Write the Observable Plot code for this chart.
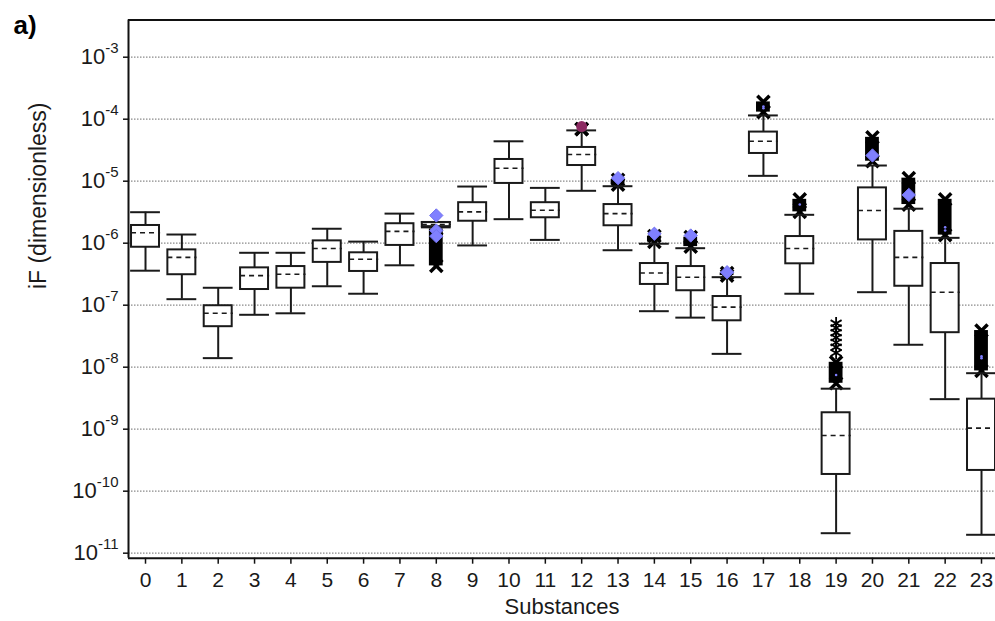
<!DOCTYPE html>
<html><head><meta charset="utf-8">
<script src="https://cdn.jsdelivr.net/npm/d3@7"></script>
<script src="https://cdn.jsdelivr.net/npm/@observablehq/plot@0.6"></script>
<style>body{margin:0;background:#fff}</style>
</head><body><div id="chart"></div>
<script>
const substances = [0,1,2,3,4,5,6,7,8,9,10,11,12,13,14,15,16,17,18,19,20,21,22,23];
const whiskerLo = [3.6e-7,1.25e-7,1.40e-8,7.0e-8,7.4e-8,2.02e-7,1.53e-7,4.4e-7,1.8e-6,9.2e-7,2.44e-6,1.13e-6,7.0e-6,7.7e-7,8.0e-8,6.3e-8,1.64e-8,1.22e-5,1.53e-7,2.1e-11,1.62e-7,2.3e-8,3.05e-9,1.98e-11];
const q1        = [8.6e-7,3.1e-7,4.5e-8,1.79e-7,1.88e-7,4.9e-7,3.5e-7,9.2e-7,1.85e-6,2.26e-6,9.2e-6,2.57e-6,1.79e-5,1.91e-6,2.16e-7,1.71e-7,5.6e-8,2.8e-5,4.65e-7,1.86e-10,1.13e-6,2.02e-7,3.6e-8,2.16e-10];
const median    = [1.47e-6,5.9e-7,7.4e-8,3.0e-7,3.16e-7,8.2e-7,5.5e-7,1.55e-6,2.0e-6,3.2e-6,1.62e-5,3.4e-6,2.7e-5,3.0e-6,3.3e-7,2.83e-7,9.3e-8,4.4e-5,8.2e-7,7.9e-10,3.37e-6,5.9e-7,1.62e-7,1.04e-9];
const q3        = [1.93e-6,7.8e-7,9.8e-8,4.0e-7,4.2e-7,1.09e-6,7.0e-7,2.06e-6,2.15e-6,4.5e-6,2.24e-5,4.5e-6,3.5e-5,4.2e-6,4.7e-7,4.2e-7,1.38e-7,6.2e-5,1.28e-6,1.84e-9,7.8e-6,1.55e-6,4.7e-7,3.05e-9];
const whiskerHi = [3.16e-6,1.38e-6,1.91e-7,7.0e-7,7.0e-7,1.71e-6,1.06e-6,3.0e-6,2.2e-6,8.2e-6,4.4e-5,7.8e-6,6.6e-5,8.3e-6,9.8e-7,8.3e-7,2.83e-7,1.15e-4,2.87e-6,4.5e-9,1.79e-5,3.6e-6,1.22e-6,8.0e-9];
const outlierLo = [null,null,null,null,null,null,null,null,4.3e-7,null,null,null,6.9e-5,8.8e-6,1.05e-6,8.8e-7,3.0e-7,1.3e-4,3.2e-6,5.5e-9,2.1e-5,4.2e-6,1.35e-6,8.7e-9];
const outlierHi = [null,null,null,null,null,null,null,null,1.7e-6,null,null,null,6.9e-5,1.05e-5,1.3e-6,1.25e-6,3.3e-7,1.9e-4,5.1e-6,1.2e-8,5.1e-5,1.12e-5,5.1e-6,3.9e-8];
const asteriskSubstance = [19,19,19,19,19,19,19];
const asteriskValue     = [5.1e-8,4.3e-8,3.6e-8,3.0e-8,2.5e-8,2.1e-8,1.7e-8];
const meanSubstance = [8,8,8,13,14,15,16,20,21];
const meanValue     = [2.8e-6,1.6e-6,1.3e-6,1.12e-5,1.42e-6,1.33e-6,3.4e-7,2.6e-5,6.0e-6];
const speckSubstance = [17,17,18,22,22,23,23,19];
const speckValue     = [1.6e-4,1.5e-4,4.2e-6,1.8e-6,1.6e-6,1.5e-8,1.4e-8,7.5e-9];
const maxSubstance = [12];
const maxValue     = [7.6e-5];
const decades = [1e-11,1e-10,1e-9,1e-8,1e-7,1e-6,1e-5,1e-4,1e-3];

const rows = substances.map((s,i)=>({s, lo:whiskerLo[i], q1:q1[i], med:median[i], q3:q3[i], hi:whiskerHi[i], oLo:outlierLo[i], oHi:outlierHi[i]}));
const outRows = rows.filter(d=>d.oLo!=null);
const outEnds = outRows.flatMap(d=>[{s:d.s,v:d.oLo},{s:d.s,v:d.oHi}]);
const asterisks = asteriskSubstance.map((s,i)=>({s,v:asteriskValue[i]}));
const means = meanSubstance.map((s,i)=>({s,v:meanValue[i]}));
const specks = speckSubstance.map((s,i)=>({s,v:speckValue[i]}));
const maxes = maxSubstance.map((s,i)=>({s,v:maxValue[i]}));

const boxHalf=0.385, capHalf=0.41, stackHalf=0.19;
const xDomain=[-0.468,23.385];
const yDomain=[Math.pow(10,-11.081),Math.pow(10,-2.4)];
const ink="#1a1a1a";

const chart = Plot.plot({
  width:995, height:621, marginLeft:128, marginRight:0, marginTop:19.5, marginBottom:63.3,
  style:{fontFamily:"'Liberation Sans', Arial, sans-serif", fontSize:"22px", color:ink, background:"#fff", overflow:"visible"},
  x:{type:"linear", domain:xDomain, axis:null},
  y:{type:"log", domain:yDomain, axis:null},
  marks:[
    Plot.ruleY(decades,{stroke:"#8a8a8a", strokeDasharray:"1.5,1.5", strokeWidth:1.2}),
    Plot.rect(outRows,{x1:d=>d.s-stackHalf, x2:d=>d.s+stackHalf, y1:"oLo", y2:"oHi", fill:"#000"}),
    Plot.dot(outEnds,{x:"s", y:"v", symbol:"times", r:5.6, stroke:"#000", strokeWidth:3.5}),
    Plot.dot(asterisks,{x:"s", y:"v", symbol:"asterisk", r:6, stroke:"#000", strokeWidth:1.8}),
    Plot.ruleX(rows,{x:"s", y1:"q3", y2:"hi", stroke:ink, strokeWidth:2}),
    Plot.ruleX(rows,{x:"s", y1:"lo", y2:"q1", stroke:ink, strokeWidth:2}),
    Plot.ruleY(rows,{y:"hi", x1:d=>d.s-capHalf, x2:d=>d.s+capHalf, stroke:ink, strokeWidth:2}),
    Plot.ruleY(rows,{y:"lo", x1:d=>d.s-capHalf, x2:d=>d.s+capHalf, stroke:ink, strokeWidth:2}),
    Plot.rect(rows,{x1:d=>d.s-boxHalf, x2:d=>d.s+boxHalf, y1:"q1", y2:"q3", fill:"#fff", stroke:ink, strokeWidth:2}),
    Plot.ruleY(rows,{y:"med", x1:d=>d.s-boxHalf, x2:d=>d.s+boxHalf+0.03, stroke:ink, strokeDasharray:"5,4", strokeWidth:1.6}),
    Plot.dot(specks,{x:"s", y:"v", r:1.3, fill:"#7f7fff"}),
    Plot.dot(means,{x:"s", y:"v", symbol:"diamond2", r:6, fill:"#8080ff", stroke:"#7272ee", strokeWidth:1}),
    Plot.dot(maxes,{x:"s", y:"v", symbol:"circle", r:5.5, fill:"#8c2b62"}),
    Plot.ruleX([xDomain[0]],{stroke:"#111", strokeWidth:2}),
    Plot.ruleY([yDomain[0]],{stroke:"#111", strokeWidth:2}),
    Plot.ruleY([yDomain[1]],{stroke:"#111", strokeWidth:2}),
    Plot.axisX(substances,{tickSize:6, tickPadding:8, tickFormat:d=>String(d), label:null, fontSize:21, stroke:"#111", strokeWidth:1.5}),
    Plot.axisY(decades,{tickSize:5, tickPadding:5, tickFormat:d=>String(Math.round(Math.log10(d))), label:null, fontSize:22, stroke:"#111", strokeWidth:1.5}),
    Plot.text(["Substances"],{frameAnchor:"bottom", lineAnchor:"middle", dy:49, fontSize:22, fill:ink}),
    Plot.text(["iF (dimensionless)"],{frameAnchor:"left", lineAnchor:"middle", rotate:-90, dx:-90, fontSize:23, fill:ink}),
    Plot.text(["a)"],{frameAnchor:"top-left", lineAnchor:"middle", dx:-115, dy:6, textAnchor:"start", fontWeight:"bold", fontSize:26, fill:"#000"})
  ]
});
document.getElementById("chart").append(chart);
// superscript exponents on y tick labels
chart.querySelectorAll('g[aria-label="y-axis tick label"] text').forEach(t=>{
  const e=t.textContent; t.textContent="";
  const a=document.createElementNS("http://www.w3.org/2000/svg","tspan"); a.textContent="10";
  const b=document.createElementNS("http://www.w3.org/2000/svg","tspan"); b.textContent=e;
  b.setAttribute("dy","-0.75em"); b.setAttribute("font-size","15px");
  t.append(a,b);
});
</script></body></html>
